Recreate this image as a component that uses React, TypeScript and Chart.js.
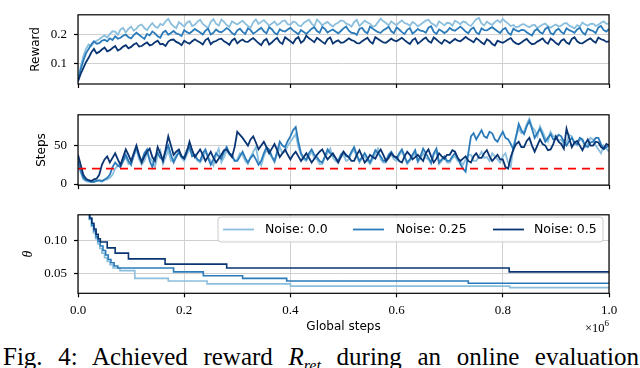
import React, { useEffect, useRef } from 'react';
import { Chart, registerables } from 'chart.js';
Chart.register(...registerables);

// x positions: evaluation points, in units of 10^6 global steps
const evalSteps = Array.from({ length: 201 }, (_, i) => i / 200);

const rewardNoise00 = [
  0.040, 0.090, 0.125, 0.150, 0.165, 0.160, 0.172, 0.178, 0.183, 0.190, 0.196, 0.188, 0.201, 0.210, 0.209, 0.198, 0.216, 0.221, 0.206, 0.218,
  0.226, 0.212, 0.219, 0.230, 0.233, 0.221, 0.214, 0.228, 0.238, 0.226, 0.222, 0.235, 0.231, 0.244, 0.252, 0.236, 0.227, 0.221, 0.241, 0.234,
  0.226, 0.239, 0.245, 0.228, 0.232, 0.243, 0.249, 0.235, 0.228, 0.221, 0.242, 0.251, 0.236, 0.229, 0.250, 0.242, 0.231, 0.225, 0.244, 0.238,
  0.233, 0.240, 0.246, 0.236, 0.228, 0.222, 0.241, 0.250, 0.235, 0.242, 0.248, 0.239, 0.229, 0.236, 0.243, 0.231, 0.236, 0.245, 0.247, 0.234,
  0.232, 0.243, 0.240, 0.230, 0.227, 0.238, 0.244, 0.249, 0.236, 0.227, 0.250, 0.241, 0.230, 0.237, 0.242, 0.233, 0.226, 0.235, 0.239, 0.247,
  0.245, 0.236, 0.233, 0.226, 0.241, 0.249, 0.228, 0.237, 0.246, 0.240, 0.236, 0.225, 0.229, 0.241, 0.253, 0.244, 0.238, 0.230, 0.244, 0.236,
  0.231, 0.240, 0.247, 0.238, 0.235, 0.229, 0.242, 0.236, 0.227, 0.233, 0.240, 0.246, 0.249, 0.238, 0.233, 0.226, 0.244, 0.237, 0.230, 0.239,
  0.238, 0.229, 0.246, 0.241, 0.234, 0.243, 0.241, 0.232, 0.228, 0.240, 0.251, 0.255, 0.237, 0.230, 0.243, 0.236, 0.232, 0.241, 0.248, 0.240,
  0.252, 0.243, 0.236, 0.228, 0.231, 0.224, 0.226, 0.233, 0.234, 0.228, 0.224, 0.230, 0.232, 0.221, 0.227, 0.233, 0.236, 0.227, 0.222, 0.229,
  0.233, 0.226, 0.229, 0.236, 0.238, 0.229, 0.225, 0.220, 0.231, 0.226, 0.240, 0.233, 0.229, 0.235, 0.236, 0.228, 0.232, 0.239, 0.244, 0.235,
  0.236,
];
const rewardNoise025 = [
  0.045, 0.080, 0.110, 0.135, 0.150, 0.165, 0.176, 0.168, 0.170, 0.178, 0.181, 0.176, 0.186, 0.180, 0.193, 0.185, 0.188, 0.195, 0.199, 0.190,
  0.186, 0.197, 0.205, 0.198, 0.191, 0.184, 0.201, 0.196, 0.209, 0.203, 0.193, 0.188, 0.206, 0.212, 0.198, 0.204, 0.211, 0.203, 0.200, 0.194,
  0.214, 0.207, 0.203, 0.210, 0.218, 0.212, 0.206, 0.199, 0.212, 0.219, 0.199, 0.205, 0.216, 0.209, 0.207, 0.213, 0.221, 0.215, 0.204, 0.198,
  0.213, 0.219, 0.208, 0.201, 0.220, 0.214, 0.202, 0.208, 0.215, 0.222, 0.210, 0.203, 0.224, 0.217, 0.205, 0.199, 0.217, 0.211, 0.209, 0.216,
  0.222, 0.213, 0.207, 0.200, 0.214, 0.208, 0.201, 0.210, 0.219, 0.224, 0.211, 0.205, 0.225, 0.218, 0.206, 0.212, 0.216, 0.209, 0.203, 0.211,
  0.220, 0.226, 0.212, 0.205, 0.204, 0.198, 0.218, 0.222, 0.209, 0.203, 0.226, 0.219, 0.213, 0.207, 0.205, 0.214, 0.219, 0.225, 0.210, 0.204,
  0.223, 0.216, 0.207, 0.201, 0.215, 0.221, 0.202, 0.209, 0.218, 0.212, 0.211, 0.205, 0.222, 0.227, 0.208, 0.201, 0.216, 0.211, 0.204, 0.210,
  0.221, 0.215, 0.212, 0.219, 0.226, 0.218, 0.209, 0.203, 0.217, 0.223, 0.206, 0.200, 0.220, 0.214, 0.213, 0.219, 0.224, 0.217, 0.210, 0.204,
  0.216, 0.221, 0.205, 0.198, 0.219, 0.213, 0.209, 0.215, 0.214, 0.207, 0.201, 0.196, 0.212, 0.218, 0.207, 0.202, 0.218, 0.224, 0.204, 0.199,
  0.213, 0.219, 0.208, 0.202, 0.220, 0.214, 0.210, 0.205, 0.216, 0.222, 0.206, 0.199, 0.219, 0.214, 0.211, 0.204, 0.223, 0.228, 0.214, 0.209,
  0.218,
];
const rewardNoise05 = [
  0.040, 0.065, 0.085, 0.105, 0.120, 0.138, 0.150, 0.135, 0.140, 0.148, 0.155, 0.142, 0.146, 0.153, 0.160, 0.145, 0.150, 0.158, 0.163, 0.152,
  0.157, 0.165, 0.170, 0.158, 0.160, 0.167, 0.172, 0.162, 0.165, 0.173, 0.178, 0.166, 0.167, 0.160, 0.175, 0.181, 0.182, 0.174, 0.170, 0.163,
  0.178, 0.172, 0.168, 0.176, 0.183, 0.177, 0.172, 0.165, 0.180, 0.186, 0.166, 0.174, 0.177, 0.183, 0.185, 0.176, 0.171, 0.164, 0.179, 0.185,
  0.169, 0.177, 0.182, 0.175, 0.174, 0.181, 0.187, 0.178, 0.170, 0.163, 0.178, 0.184, 0.165, 0.172, 0.181, 0.188, 0.173, 0.167, 0.190, 0.183,
  0.176, 0.169, 0.184, 0.190, 0.171, 0.178, 0.195, 0.186, 0.180, 0.173, 0.188, 0.181, 0.174, 0.168, 0.183, 0.189, 0.168, 0.175, 0.179, 0.171,
  0.172, 0.179, 0.186, 0.180, 0.177, 0.170, 0.169, 0.176, 0.182, 0.188, 0.175, 0.168, 0.190, 0.184, 0.178, 0.172, 0.171, 0.178, 0.185, 0.179,
  0.176, 0.182, 0.188, 0.180, 0.173, 0.167, 0.180, 0.186, 0.168, 0.175, 0.183, 0.189, 0.177, 0.171, 0.189, 0.182, 0.174, 0.168, 0.181, 0.176,
  0.170, 0.177, 0.184, 0.178, 0.176, 0.183, 0.191, 0.184, 0.179, 0.173, 0.186, 0.180, 0.172, 0.166, 0.183, 0.177, 0.167, 0.162, 0.178, 0.174,
  0.171, 0.176, 0.182, 0.187, 0.175, 0.169, 0.166, 0.172, 0.179, 0.184, 0.173, 0.166, 0.168, 0.175, 0.180, 0.186, 0.174, 0.168, 0.185, 0.179,
  0.170, 0.164, 0.178, 0.183, 0.172, 0.167, 0.184, 0.190, 0.176, 0.170, 0.169, 0.175, 0.181, 0.186, 0.177, 0.171, 0.189, 0.183, 0.180, 0.174,
  0.176,
];

const stepsNoise00 = [
  25, 15, 6, 4, 3, 3, 3, 4, 4, 3, 5, 6, 8, 12, 20, 24, 25, 30, 35, 26,
  28, 36, 45, 32, 25, 30, 40, 34, 30, 22, 38, 44, 26, 35, 44, 30, 32, 38, 40, 34,
  30, 38, 45, 40, 36, 30, 28, 34, 42, 36, 30, 24, 38, 46, 28, 35, 44, 38, 36, 30,
  32, 40, 38, 30, 26, 35, 42, 48, 30, 24, 36, 44, 40, 35, 28, 38, 48, 40, 42, 50,
  55, 60, 65, 48, 38, 32, 30, 36, 42, 34, 32, 26, 26, 35, 40, 46, 34, 30, 28, 36,
  38, 30, 32, 40, 44, 36, 28, 34, 36, 30, 26, 32, 40, 46, 32, 28, 28, 36, 38, 32,
  30, 38, 42, 35, 26, 30, 36, 40, 28, 33, 40, 34, 32, 26, 38, 42, 26, 30, 34, 28,
  28, 34, 36, 30, 30, 25, 32, 38, 38, 30, 30, 36, 42, 34, 35, 30, 40, 36, 32, 28,
  36, 40, 28, 22, 50, 62, 72, 66, 68, 78, 85, 74, 70, 62, 75, 68, 60, 55, 68, 62,
  62, 56, 58, 50, 55, 64, 62, 52, 50, 58, 56, 48, 52, 60, 58, 50, 45, 40, 50, 46,
  42,
];
const stepsNoise025 = [
  30, 18, 8, 5, 4, 3, 3, 4, 5, 4, 6, 8, 12, 22, 28, 24, 22, 30, 38, 30,
  25, 38, 48, 36, 30, 40, 45, 30, 22, 35, 40, 34, 32, 42, 50, 38, 28, 35, 42, 36,
  35, 44, 48, 36, 38, 32, 30, 40, 45, 34, 25, 32, 40, 36, 33, 42, 48, 40, 38, 30,
  30, 36, 42, 34, 28, 34, 38, 32, 25, 30, 40, 48, 45, 36, 30, 42, 55, 50, 48, 56,
  62, 70, 74, 55, 40, 34, 32, 40, 45, 38, 35, 30, 28, 36, 45, 40, 38, 34, 30, 38,
  42, 36, 35, 42, 48, 38, 30, 35, 40, 34, 28, 36, 44, 40, 36, 30, 30, 38, 42, 36,
  33, 40, 45, 36, 28, 32, 38, 44, 30, 36, 46, 40, 34, 28, 40, 46, 28, 32, 36, 30,
  30, 36, 40, 34, 26, 20, 16, 40, 62, 66, 58, 64, 70, 62, 60, 68, 66, 58, 55, 62,
  68, 60, 58, 52, 45, 62, 78, 70, 65, 75, 82, 72, 60, 66, 72, 64, 55, 60, 65, 58,
  58, 64, 62, 55, 50, 56, 60, 54, 52, 60, 58, 50, 48, 54, 55, 60, 60, 52, 45, 48,
  50,
];
const stepsNoise05 = [
  38, 25, 12, 7, 5, 4, 6, 7, 12, 25, 32, 36, 28, 34, 40, 32, 25, 35, 45, 38,
  30, 40, 50, 38, 28, 36, 42, 46, 35, 30, 48, 40, 30, 45, 62, 50, 38, 42, 45, 36,
  33, 42, 55, 44, 35, 40, 45, 38, 30, 36, 42, 34, 28, 33, 38, 44, 45, 40, 35, 48,
  68, 64, 60, 55, 50, 58, 62, 54, 45, 50, 55, 48, 40, 46, 52, 44, 35, 40, 45, 38,
  32, 38, 42, 36, 30, 35, 40, 34, 28, 33, 38, 42, 45, 38, 32, 36, 40, 34, 28, 35,
  42, 38, 35, 30, 30, 38, 44, 36, 28, 32, 38, 35, 33, 40, 45, 38, 30, 34, 40, 36,
  35, 30, 28, 36, 42, 38, 32, 35, 38, 34, 30, 40, 45, 36, 28, 33, 40, 36, 33, 38,
  38, 44, 42, 34, 30, 33, 36, 30, 28, 36, 40, 34, 34, 40, 44, 36, 30, 34, 38, 32,
  32, 22, 20, 35, 45, 52, 55, 48, 48, 56, 60, 50, 42, 50, 58, 52, 50, 44, 45, 52,
  62, 55, 52, 46, 72, 60, 48, 54, 56, 50, 44, 52, 58, 50, 50, 55, 54, 48, 46, 52,
  50,
];
const stepsThreshold = 20;

const thetaXNoise00 = [0, 0.01, 0.017, 0.021, 0.025, 0.029, 0.033, 0.037, 0.041, 0.045, 0.05, 0.055, 0.06, 0.066, 0.079, 0.107, 0.17, 0.243, 0.4, 0.813, 1.0];
const thetaNoise00 = [0.30, 0.20, 0.145, 0.133, 0.122, 0.112, 0.103, 0.095, 0.088, 0.081, 0.074, 0.068, 0.063, 0.058, 0.054, 0.042, 0.038, 0.0335, 0.030, 0.0277, 0.0277];
const thetaXNoise025 = [0, 0.01, 0.018, 0.022, 0.026, 0.03, 0.034, 0.038, 0.042, 0.047, 0.052, 0.057, 0.062, 0.068, 0.075, 0.18, 0.236, 0.31, 0.393, 0.735, 1.0];
const thetaNoise025 = [0.30, 0.20, 0.145, 0.134, 0.124, 0.115, 0.106, 0.099, 0.092, 0.085, 0.078, 0.071, 0.066, 0.061, 0.058, 0.052, 0.046, 0.042, 0.038, 0.0345, 0.0345];
const thetaXNoise05 = [0, 0.01, 0.018, 0.022, 0.026, 0.03, 0.034, 0.038, 0.042, 0.055, 0.07, 0.095, 0.164, 0.28, 0.812, 1.0];
const thetaNoise05 = [0.30, 0.20, 0.145, 0.135, 0.127, 0.118, 0.110, 0.103, 0.098, 0.089, 0.081, 0.072, 0.064, 0.058, 0.052, 0.052];

const xTickValues = [0, 0.2, 0.4, 0.6, 0.8, 1.0];
const rewardTickValues = [0.1, 0.2];
const stepsTickValues = [0, 50];
const thetaTickValues = [0.05, 0.1];
const noiseLabels = ['Noise: 0.0', 'Noise: 0.25', 'Noise: 0.5'];
const seriesColors = ['#8bbfdd', '#2b7bba', '#0a3573'];

const SERIF = '"Liberation Serif", "Times New Roman", serif';
const SANS = '"DejaVu Sans", sans-serif';
const GRID = '#d0d0d0';

Chart.defaults.font.family = SERIF;

const pts = (xs: number[], ys: number[]) => ys.map((y, i) => ({ x: xs[i], y }));

const framePlugin = {
  id: 'frame',
  afterDatasetsDraw(chart: any) {
    const { ctx, chartArea: a } = chart;
    ctx.save();
    ctx.strokeStyle = '#000';
    ctx.lineWidth = 1.2;
    ctx.strokeRect(a.left, a.top, a.right - a.left, a.bottom - a.top);
    ctx.restore();
  },
};

const legendPlugin = {
  id: 'inlineLegend',
  afterDraw(chart: any) {
    const { ctx } = chart;
    ctx.save();
    const x0 = 218, y0 = 17, w = 385, h = 25, r = 3;
    ctx.beginPath();
    ctx.moveTo(x0 + r, y0);
    ctx.arcTo(x0 + w, y0, x0 + w, y0 + h, r);
    ctx.arcTo(x0 + w, y0 + h, x0, y0 + h, r);
    ctx.arcTo(x0, y0 + h, x0, y0, r);
    ctx.arcTo(x0, y0, x0 + w, y0, r);
    ctx.closePath();
    ctx.fillStyle = 'rgba(255,255,255,0.85)';
    ctx.fill();
    ctx.strokeStyle = '#cccccc';
    ctx.lineWidth = 1;
    ctx.stroke();
    const lineStarts = [223, 353, 493];
    const textStarts = [265, 396, 534];
    const cy = 29.5;
    ctx.font = `12.5px ${SANS}`;
    ctx.textBaseline = 'middle';
    ctx.textAlign = 'left';
    noiseLabels.forEach((lab, i) => {
      ctx.strokeStyle = seriesColors[i];
      ctx.lineWidth = 1.8;
      ctx.beginPath();
      ctx.moveTo(lineStarts[i], cy);
      ctx.lineTo(lineStarts[i] + 31, cy);
      ctx.stroke();
      ctx.fillStyle = '#000';
      ctx.fillText(lab, textStarts[i], cy + 0.5);
    });
    ctx.restore();
  },
};

const offsetTextPlugin = {
  id: 'offsetText',
  afterDraw(chart: any) {
    const { ctx } = chart;
    ctx.save();
    ctx.fillStyle = '#000';
    ctx.textBaseline = 'middle';
    ctx.textAlign = 'right';
    ctx.font = `9px ${SERIF}`;
    const supW = ctx.measureText('6').width;
    ctx.fillText('6', 609, 124);
    ctx.font = `12.5px ${SERIF}`;
    ctx.fillText('\u00d710', 609 - supW, 129);
    ctx.restore();
  },
};

function makeOptions(o: any) {
  const tickFont = { family: SERIF, size: 13 };
  return {
    responsive: false,
    animation: false,
    events: [],
    font: { family: SERIF },
    layout: { padding: { top: o.padTop, right: 31, left: 0, bottom: 0 } },
    plugins: { legend: { display: false }, tooltip: { enabled: false } },
    scales: {
      x: {
        type: 'linear',
        min: 0,
        max: 1,
        afterBuildTicks: (s: any) => { s.ticks = xTickValues.map((v) => ({ value: v })); },
        afterFit: (s: any) => { s.height = o.xHeight; },
        grid: { color: GRID, lineWidth: 1, drawTicks: true, tickLength: 4, tickColor: '#000', tickWidth: 1.2 },
        border: { display: false },
        ticks: {
          display: o.xLabels,
          padding: 5,
          color: '#000',
          font: tickFont,
          maxRotation: 0,
          autoSkip: false,
          callback: (v: any) => Number(v).toFixed(1),
        },
        title: o.xLabels
          ? { display: true, text: 'Global steps', color: '#000', font: { family: SANS, size: 12 }, padding: { top: 0, bottom: 5.8 } }
          : { display: false },
      },
      y: {
        type: 'linear',
        min: o.yMin,
        max: o.yMax,
        afterBuildTicks: (s: any) => { s.ticks = o.yTicks.map((v: number) => ({ value: v })); },
        afterFit: (s: any) => { s.width = 78; },
        grid: { color: GRID, lineWidth: 1, drawTicks: true, tickLength: 4, tickColor: '#000', tickWidth: 1.2 },
        border: { display: false },
        ticks: { padding: 7, color: '#000', font: tickFont, callback: o.yFmt },
        title: { display: true, text: o.yTitle, color: '#000', font: o.yTitleFont, padding: { top: o.yTitlePad, bottom: 0 } },
      },
    },
  };
}

const lineDs = (data: any[], color: string, width: number, extra: any = {}) => ({
  data,
  borderColor: color,
  backgroundColor: color,
  borderWidth: width,
  pointRadius: 0,
  tension: 0,
  fill: false,
  ...extra,
});

export default function App() {
  const r1 = useRef<HTMLCanvasElement>(null);
  const r2 = useRef<HTMLCanvasElement>(null);
  const r3 = useRef<HTMLCanvasElement>(null);

  useEffect(() => {
    const c1 = new Chart(r1.current as any, {
      type: 'line',
      data: {
        datasets: [
          lineDs(pts(evalSteps, rewardNoise05), seriesColors[2], 1.8),
          lineDs(pts(evalSteps, rewardNoise025), seriesColors[1], 1.8),
          lineDs(pts(evalSteps, rewardNoise00), seriesColors[0], 1.8),
        ],
      },
      options: makeOptions({
        padTop: 2, xHeight: 16, xLabels: false,
        yMin: 0.031, yMax: 0.266, yTicks: rewardTickValues,
        yFmt: (v: any) => Number(v).toFixed(1),
        yTitle: 'Reward', yTitleFont: { family: SANS, size: 12 }, yTitlePad: 28.8,
      }) as any,
      plugins: [framePlugin],
    });
    const c2 = new Chart(r2.current as any, {
      type: 'line',
      data: {
        datasets: [
          lineDs([{ x: 0, y: stepsThreshold }, { x: 1, y: stepsThreshold }], '#ff0000', 1.8, { borderDash: [8, 6] }),
          lineDs(pts(evalSteps, stepsNoise05), seriesColors[2], 1.8),
          lineDs(pts(evalSteps, stepsNoise025), seriesColors[1], 1.8),
          lineDs(pts(evalSteps, stepsNoise00), seriesColors[0], 1.8),
        ],
      },
      options: makeOptions({
        padTop: 5, xHeight: 12.5, xLabels: false,
        yMin: -1.5, yMax: 90, yTicks: stepsTickValues,
        yFmt: (v: any) => String(v),
        yTitle: 'Steps', yTitleFont: { family: SANS, size: 12 }, yTitlePad: 34.3,
      }) as any,
      plugins: [framePlugin],
    });
    const c3 = new Chart(r3.current as any, {
      type: 'line',
      data: {
        datasets: [
          lineDs(pts(thetaXNoise05, thetaNoise05), seriesColors[2], 1.6, { stepped: 'before' }),
          lineDs(pts(thetaXNoise025, thetaNoise025), seriesColors[1], 1.6, { stepped: 'before' }),
          lineDs(pts(thetaXNoise00, thetaNoise00), seriesColors[0], 1.6, { stepped: 'before' }),
        ],
      },
      options: makeOptions({
        padTop: 10, xHeight: 46.7, xLabels: true,
        yMin: 0.019, yMax: 0.14, yTicks: thetaTickValues,
        yFmt: (v: any) => Number(v).toFixed(2),
        yTitle: '\u03b8', yTitleFont: { family: SERIF, size: 14, style: 'italic' }, yTitlePad: 19.6,
      }) as any,
      plugins: [framePlugin, legendPlugin, offsetTextPlugin],
    });
    const charts = [c1, c2, c3];
    let alive = true;
    const fontsApi: any = (document as any).fonts;
    if (fontsApi && fontsApi.load) {
      Promise.all([
        fontsApi.load('13px "Liberation Serif"'),
        fontsApi.load('italic 14px "Liberation Serif"'),
        fontsApi.load('12px "DejaVu Sans"'),
      ]).then(() => { if (alive) charts.forEach((c) => c.update('none')); }).catch(() => {});
    }
    return () => { alive = false; charts.forEach((c) => c.destroy()); };
  }, []);

  return (
    <div style={{ position: 'absolute', left: 0, top: 0, width: 640, height: 368, overflow: 'hidden', background: '#fff' }}>
      <canvas ref={r1} width={640} height={100} style={{ position: 'absolute', left: 0, top: 0, width: 640, height: 100 }} />
      <canvas ref={r2} width={640} height={100} style={{ position: 'absolute', left: 0, top: 100, width: 640, height: 100 }} />
      <canvas ref={r3} width={640} height={140} style={{ position: 'absolute', left: 0, top: 200, width: 640, height: 140 }} />
      <div
        style={{
          position: 'absolute', left: 3, top: 342, width: 636,
          fontFamily: SERIF, fontSize: 25, lineHeight: '30px', color: '#000',
          textAlign: 'justify', textAlignLast: 'justify' as any, whiteSpace: 'nowrap',
        }}
      >
        Fig. 4: Achieved reward <i>R</i><sub style={{ fontSize: 16, fontStyle: 'italic' }}>ret</sub> during an online evaluation
      </div>
    </div>
  );
}
